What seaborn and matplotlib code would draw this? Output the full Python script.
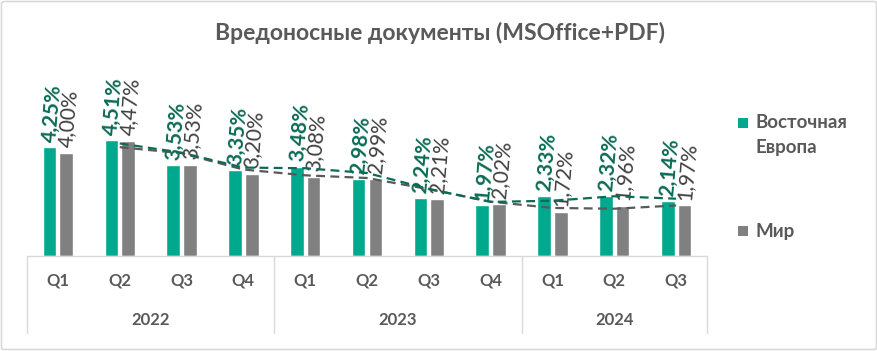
import numpy as np
import pandas as pd
import matplotlib
matplotlib.use("Agg")
import matplotlib.pyplot as plt
import seaborn as sns
from matplotlib.patches import FancyBboxPatch, Rectangle
from matplotlib.transforms import blended_transform_factory

quarters = ["Q1", "Q2", "Q3", "Q4", "Q1", "Q2", "Q3", "Q4", "Q1", "Q2", "Q3"]
years = ["2022"] * 4 + ["2023"] * 4 + ["2024"] * 3
east_europe = [4.25, 4.51, 3.53, 3.35, 3.48, 2.98, 2.24, 1.97, 2.33, 2.32, 2.14]
world = [4.00, 4.47, 3.53, 3.20, 3.08, 2.99, 2.21, 2.02, 1.72, 1.96, 1.97]
series_names = ["Восточная Европа", "Мир"]
legend_labels = ["Восточная\nЕвропа", "Мир"]
year_groups = ["2022", "2023", "2024"]
title = "Вредоносные документы (MSOffice+PDF)"

teal = "#00A88E"
gray = "#808080"
teal_dark = "#0B6B55"
gray_dark = "#595959"
label_gray = "#404040"
text_gray = "#595959"
grid_gray = "#D9D9D9"

sns.set_theme(style="white")
plt.rcParams["font.family"] = ["Lato", "DejaVu Sans"]

period = [f"{y} {q}" for y, q in zip(years, quarters)]
n = len(period)
df = pd.DataFrame({
    "period": period * 2,
    "value": east_europe + world,
    "series": [series_names[0]] * n + [series_names[1]] * n,
})

W, H = 878, 351
fig = plt.figure(figsize=(W / 100, H / 100), dpi=100)
ax = fig.add_axes([27 / W, (H - 256) / H, 680 / W, 196 / H])

sns.barplot(data=df, x="period", y="value", hue="series", order=period,
            hue_order=series_names, palette=[teal, gray], width=0.54, gap=0.18,
            saturation=1, ax=ax, legend=False)

ax.set_xlim(-0.5, n - 0.5)
ax.set_ylim(0, 196 / 25.7)

# data labels
for container, vals, col, wt, off in zip(ax.containers, [east_europe, world],
                                         [teal_dark, label_gray], ["bold", "normal"],
                                         [3.5, 4]):
    for bar, v in zip(container, vals):
        x = bar.get_x() + bar.get_width() / 2
        ax.annotate(f"{v:.2f}%".replace(".", ","), (x, bar.get_height()),
                    xytext=(0, off), textcoords="offset points",
                    rotation=85, rotation_mode="anchor", ha="left", va="center",
                    fontsize=15, color=col, fontweight=wt, zorder=4)

# moving-average (2 periods) trendlines
idx = np.arange(1, n)
ma_e = [(east_europe[i - 1] + east_europe[i]) / 2 for i in range(1, n)]
ma_w = [(world[i - 1] + world[i]) / 2 for i in range(1, n)]
ax.plot(idx, ma_w, color=gray_dark, lw=1.6, ls=(0, (4, 2.4)), zorder=5)
ax.plot(idx, ma_e, color=teal_dark, lw=1.6, ls=(0, (4, 2.4)), zorder=5)

# axes styling
for s in ["top", "right", "left"]:
    ax.spines[s].set_visible(False)
ax.spines["bottom"].set_color(grid_gray)
ax.spines["bottom"].set_linewidth(1)
ax.set_yticks([])
ax.set_xticks(range(n))
ax.set_xticklabels(quarters)
ax.tick_params(axis="x", length=0, pad=12, labelsize=12, labelcolor=text_gray)
for t in ax.get_xticklabels():
    t.set_fontweight("bold")
ax.set_xlabel("")
ax.set_ylabel("")

trans = blended_transform_factory(ax.transData, ax.transAxes)
bounds = [-0.5]
for yv in year_groups:
    pos = [i for i, y in enumerate(years) if y == yv]
    ax.text(np.mean(pos), -0.327, yv, transform=trans, ha="center", va="center",
            fontsize=12, fontweight="bold", color=text_gray)
    bounds.append(max(pos) + 0.5)
for b in bounds:
    ax.plot([b, b], [0, -0.393], transform=trans, color=grid_gray, lw=1,
            clip_on=False)

# title
fig.text(440 / W, 1 - 33 / H, title, ha="center", va="center", fontsize=16.5,
         fontweight="bold", color=text_gray)

# legend
def px(x, y):
    return x / W, 1 - y / H

for (cy, col, lab) in [(123, teal, legend_labels[0]), (231, gray, legend_labels[1])]:
    x0, y0 = px(738, cy + 5)
    fig.add_artist(Rectangle((x0, y0), 10 / W, 10 / H, transform=fig.transFigure,
                             facecolor=col, edgecolor="none"))
    lines = lab.split("\n")
    for k, line in enumerate(lines):
        tx, ty = px(756, cy + 24 * k)
        fig.text(tx, ty, line, ha="left", va="center", fontsize=13.5,
                 fontweight="bold", color=text_gray)

# chart border
fig.add_artist(FancyBboxPatch((1.5 / W, 1.5 / H), (W - 3) / W, (H - 3) / H,
                              boxstyle="round,pad=0,rounding_size=0.004",
                              transform=fig.transFigure, fill=False,
                              edgecolor=grid_gray, lw=1.2))

fig.savefig("out.png", dpi=100)
